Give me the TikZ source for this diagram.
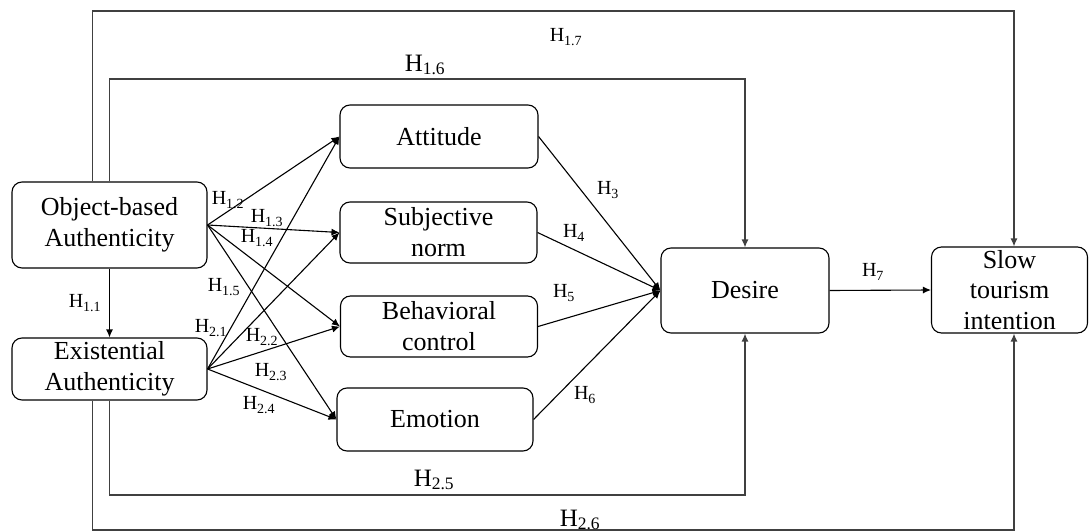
\documentclass[tikz,border=0pt]{standalone}
\usepackage{fontspec}
\setmainfont{Liberation Serif}
\usetikzlibrary{arrows.meta}

\begin{document}
\begin{tikzpicture}[x=1pt,y=-1pt,>={Latex[length=8pt,width=7pt]},font=\rmfamily\fontsize{26}{31}\selectfont,
 box/.style={draw,rounded corners=10pt,align=center,line width=1.1pt,inner sep=0pt},
 flow/.style={->,line width=1.1pt},
 long/.style={->,line width=1.3pt,draw=black!75},
 hyp/.style={font=\rmfamily\fontsize{20}{22}\selectfont,inner sep=0pt},
 bighyp/.style={font=\rmfamily\fontsize{25}{28}\selectfont,inner sep=0pt}]
 \useasboundingbox (0,0) rectangle (1089,532);
 % constructs
 \node[box,minimum width=195,minimum height=86] (obj) at (109.5,225) {Object-based\\Authenticity};
 \node[box,minimum width=195,minimum height=62] (exi) at (109.5,369) {Existential\\Authenticity};
 \node[box,minimum width=198,minimum height=63] (att) at (439,136.5) {Attitude};
 \node[box,minimum width=197,minimum height=61] (sub) at (438.5,232.5) {Subjective\\norm};
 \node[box,minimum width=197,minimum height=61] (beh) at (439,326.5) {Behavioral\\control};
 \node[box,minimum width=196,minimum height=63] (emo) at (435,419.5) {Emotion};
 \node[box,minimum width=168,minimum height=85] (des) at (745,290.5) {Desire};
 \node[box,minimum width=156,minimum height=86,font=\rmfamily\fontsize{26}{30.5}\selectfont] (slow) at (1009.5,290) {Slow\\tourism\\intention};
 % corner points of the long paths
 \coordinate (y1) at (0,11);
 \coordinate (y2) at (0,79);
 \coordinate (y3) at (0,495);
 \coordinate (y4) at (0,530);
 \coordinate (o1) at ([xshift=-17pt]obj.north);
 \coordinate (e1) at ([xshift=-17pt]exi.south);
 \coordinate (s1) at ([xshift=4.5pt]slow.north);
 \coordinate (s2) at ([xshift=4.5pt]slow.south);
 % paths
 \draw[flow] (obj.south)--(exi.north);
 \foreach \t in {att,sub,beh,emo}{
  \draw[flow] (obj.east)--(\t.west);
  \draw[flow] (exi.east)--(\t.west);
  \draw[flow] (\t.east)--(des.west);
 }
 \draw[flow] (des.east)--(slow.west);
 \draw[long] (o1)--(o1 |- y1) -| (s1);
 \draw[long] (obj.north)--(obj.north |- y2) -| (des.north);
 \draw[long] (exi.south)--(exi.south |- y3) -| (des.south);
 \draw[long] (e1)--(e1 |- y4) -| (s2);
 % hypothesis labels
 \node[hyp] (h11) at (85,303) {H\textsubscript{1.1}};
 \node[hyp] (h12) at (228,200) {H\textsubscript{1.2}};
 \node[hyp] (h13) at (267,218) {H\textsubscript{1.3}};
 \node[hyp] (h14) at (257,238) {H\textsubscript{1.4}};
 \node[hyp] (h15) at (224,287) {H\textsubscript{1.5}};
 \node[bighyp] (h16) at (425,65) {H\textsubscript{1.6}};
 \node[hyp] (h17) at (566,37) {H\textsubscript{1.7}};
 \node[hyp] (h21) at (211,328) {H\textsubscript{2.1}};
 \node[hyp] (h22) at (262,337) {H\textsubscript{2.2}};
 \node[hyp] (h23) at (271,372) {H\textsubscript{2.3}};
 \node[hyp] (h24) at (259,405) {H\textsubscript{2.4}};
 \node[bighyp] (h25) at (434,480) {H\textsubscript{2.5}};
 \node[bighyp] (h26) at (580,520) {H\textsubscript{2.6}};
 \node[hyp] (h3) at (608,190) {H\textsubscript{3}};
 \node[hyp] (h4) at (574,233) {H\textsubscript{4}};
 \node[hyp] (h5) at (564,293) {H\textsubscript{5}};
 \node[hyp] (h6) at (585,395) {H\textsubscript{6}};
 \node[hyp] (h7) at (873,272) {H\textsubscript{7}};
\end{tikzpicture}
\end{document}
